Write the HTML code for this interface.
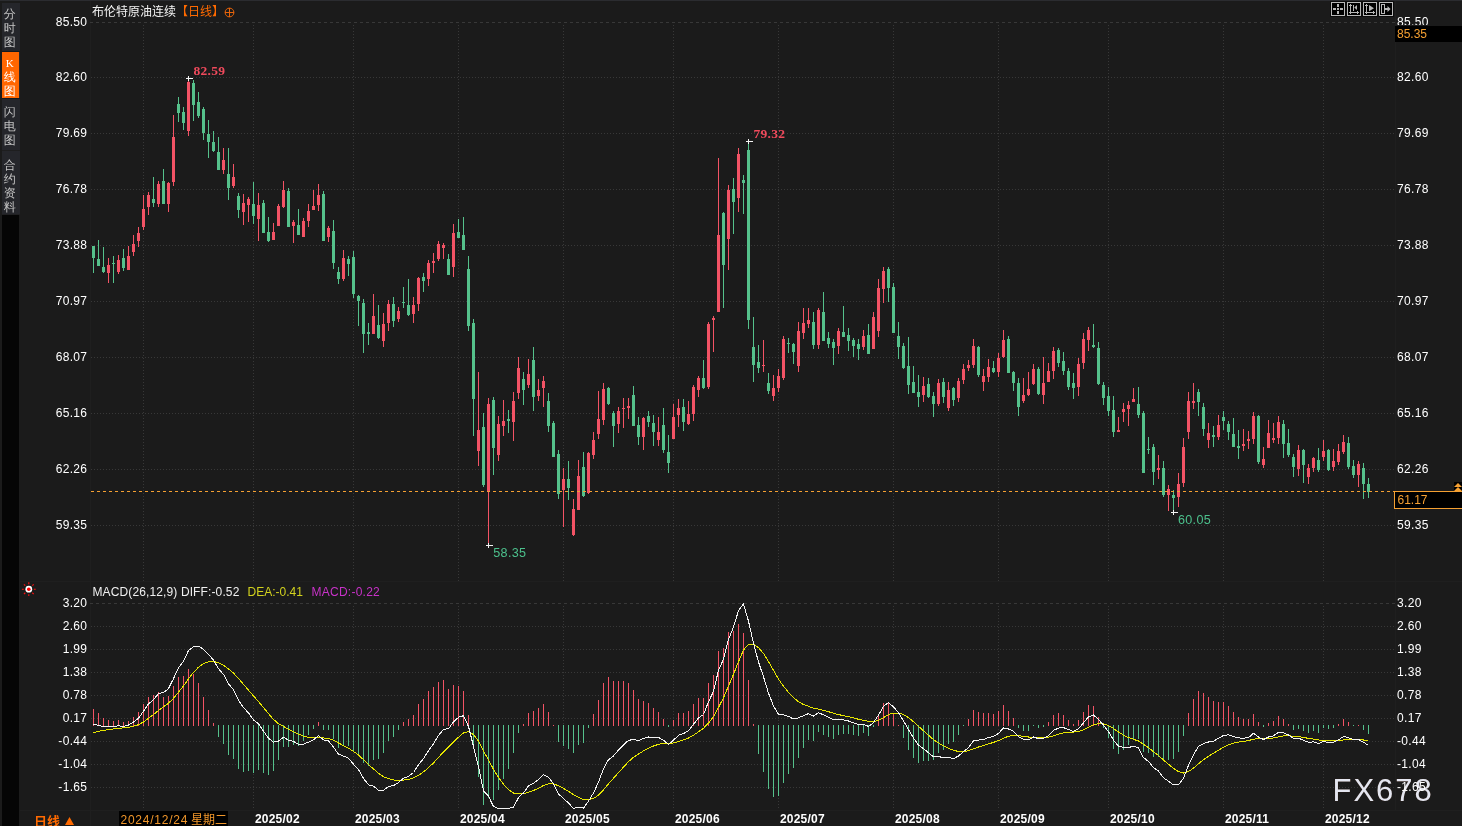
<!DOCTYPE html>
<html><head><meta charset="utf-8"><style>
html,body{margin:0;padding:0;background:#1b1b1b;}
body{width:1462px;height:826px;overflow:hidden;position:relative;}
svg{position:absolute;left:0;top:0;}
</style></head><body>
<svg width="1462" height="826" viewBox="0 0 1462 826">
<rect x="0" y="0" width="1462" height="826" fill="#1b1b1b"/>
<g shape-rendering="crispEdges">
<rect x="90" y="1" width="1" height="825" fill="#1f1f1f"/>
<rect x="1395" y="1" width="1" height="809" fill="#1f1f1f"/>
<rect x="20" y="581" width="1442" height="1" fill="#1f1f1f"/>
<rect x="20" y="810" width="1442" height="1" fill="#1f1f1f"/>
<line x1="90" y1="22.5" x2="1395" y2="22.5" stroke="#383838" stroke-dasharray="3,3"/>
<line x1="91" y1="77.5" x2="1395" y2="77.5" stroke="#383838" stroke-dasharray="1,2"/>
<line x1="91" y1="133.5" x2="1395" y2="133.5" stroke="#383838" stroke-dasharray="1,2"/>
<line x1="91" y1="189.5" x2="1395" y2="189.5" stroke="#383838" stroke-dasharray="1,2"/>
<line x1="91" y1="245.5" x2="1395" y2="245.5" stroke="#383838" stroke-dasharray="1,2"/>
<line x1="91" y1="301.5" x2="1395" y2="301.5" stroke="#383838" stroke-dasharray="1,2"/>
<line x1="91" y1="357.5" x2="1395" y2="357.5" stroke="#383838" stroke-dasharray="1,2"/>
<line x1="91" y1="413.5" x2="1395" y2="413.5" stroke="#383838" stroke-dasharray="1,2"/>
<line x1="91" y1="469.5" x2="1395" y2="469.5" stroke="#383838" stroke-dasharray="1,2"/>
<line x1="91" y1="525.5" x2="1395" y2="525.5" stroke="#383838" stroke-dasharray="1,2"/>
<line x1="90" y1="603.5" x2="1395" y2="603.5" stroke="#383838" stroke-dasharray="3,3"/>
<line x1="91" y1="626.5" x2="1395" y2="626.5" stroke="#383838" stroke-dasharray="1,2"/>
<line x1="91" y1="649.5" x2="1395" y2="649.5" stroke="#383838" stroke-dasharray="1,2"/>
<line x1="91" y1="672.5" x2="1395" y2="672.5" stroke="#383838" stroke-dasharray="1,2"/>
<line x1="91" y1="695.5" x2="1395" y2="695.5" stroke="#383838" stroke-dasharray="1,2"/>
<line x1="91" y1="718.5" x2="1395" y2="718.5" stroke="#383838" stroke-dasharray="1,2"/>
<line x1="91" y1="741.5" x2="1395" y2="741.5" stroke="#383838" stroke-dasharray="1,2"/>
<line x1="91" y1="764.5" x2="1395" y2="764.5" stroke="#383838" stroke-dasharray="1,2"/>
<line x1="91" y1="787.5" x2="1395" y2="787.5" stroke="#383838" stroke-dasharray="1,2"/>
<line x1="143.5" y1="25" x2="143.5" y2="581" stroke="#383838" stroke-dasharray="1,2"/>
<line x1="143.5" y1="606" x2="143.5" y2="809" stroke="#383838" stroke-dasharray="1,2"/>
<line x1="253.5" y1="25" x2="253.5" y2="581" stroke="#383838" stroke-dasharray="1,2"/>
<line x1="253.5" y1="606" x2="253.5" y2="809" stroke="#383838" stroke-dasharray="1,2"/>
<line x1="353.5" y1="25" x2="353.5" y2="581" stroke="#383838" stroke-dasharray="1,2"/>
<line x1="353.5" y1="606" x2="353.5" y2="809" stroke="#383838" stroke-dasharray="1,2"/>
<line x1="458.5" y1="25" x2="458.5" y2="581" stroke="#383838" stroke-dasharray="1,2"/>
<line x1="458.5" y1="606" x2="458.5" y2="809" stroke="#383838" stroke-dasharray="1,2"/>
<line x1="563.5" y1="25" x2="563.5" y2="581" stroke="#383838" stroke-dasharray="1,2"/>
<line x1="563.5" y1="606" x2="563.5" y2="809" stroke="#383838" stroke-dasharray="1,2"/>
<line x1="673.5" y1="25" x2="673.5" y2="581" stroke="#383838" stroke-dasharray="1,2"/>
<line x1="673.5" y1="606" x2="673.5" y2="809" stroke="#383838" stroke-dasharray="1,2"/>
<line x1="778.5" y1="25" x2="778.5" y2="581" stroke="#383838" stroke-dasharray="1,2"/>
<line x1="778.5" y1="606" x2="778.5" y2="809" stroke="#383838" stroke-dasharray="1,2"/>
<line x1="893.5" y1="25" x2="893.5" y2="581" stroke="#383838" stroke-dasharray="1,2"/>
<line x1="893.5" y1="606" x2="893.5" y2="809" stroke="#383838" stroke-dasharray="1,2"/>
<line x1="998.5" y1="25" x2="998.5" y2="581" stroke="#383838" stroke-dasharray="1,2"/>
<line x1="998.5" y1="606" x2="998.5" y2="809" stroke="#383838" stroke-dasharray="1,2"/>
<line x1="1108.5" y1="25" x2="1108.5" y2="581" stroke="#383838" stroke-dasharray="1,2"/>
<line x1="1108.5" y1="606" x2="1108.5" y2="809" stroke="#383838" stroke-dasharray="1,2"/>
<line x1="1223.5" y1="25" x2="1223.5" y2="581" stroke="#383838" stroke-dasharray="1,2"/>
<line x1="1223.5" y1="606" x2="1223.5" y2="809" stroke="#383838" stroke-dasharray="1,2"/>
<line x1="1323.5" y1="25" x2="1323.5" y2="581" stroke="#383838" stroke-dasharray="1,2"/>
<line x1="1323.5" y1="606" x2="1323.5" y2="809" stroke="#383838" stroke-dasharray="1,2"/>
</g>
<g shape-rendering="crispEdges"><rect x="93" y="246" width="1" height="27" fill="#55c18b"/><rect x="92" y="246" width="3" height="12" fill="#55c18b"/><rect x="98" y="240" width="1" height="26" fill="#55c18b"/><rect x="97" y="259" width="3" height="7" fill="#55c18b"/><rect x="103" y="247" width="1" height="26" fill="#55c18b"/><rect x="102" y="267" width="3" height="5" fill="#55c18b"/><rect x="108" y="258" width="1" height="25" fill="#f35365"/><rect x="107" y="265" width="3" height="8" fill="#f35365"/><rect x="113" y="256" width="1" height="27" fill="#55c18b"/><rect x="112" y="263" width="3" height="1" fill="#55c18b"/><rect x="118" y="255" width="1" height="19" fill="#f35365"/><rect x="117" y="260" width="3" height="12" fill="#f35365"/><rect x="123" y="249" width="1" height="22" fill="#55c18b"/><rect x="122" y="258" width="3" height="10" fill="#55c18b"/><rect x="128" y="246" width="1" height="24" fill="#f35365"/><rect x="127" y="256" width="3" height="14" fill="#f35365"/><rect x="133" y="235" width="1" height="21" fill="#f35365"/><rect x="132" y="244" width="3" height="8" fill="#f35365"/><rect x="138" y="227" width="1" height="20" fill="#f35365"/><rect x="137" y="233" width="3" height="8" fill="#f35365"/><rect x="143" y="195" width="1" height="35" fill="#f35365"/><rect x="142" y="209" width="3" height="18" fill="#f35365"/><rect x="148" y="192" width="1" height="23" fill="#f35365"/><rect x="147" y="195" width="3" height="12" fill="#f35365"/><rect x="153" y="177" width="1" height="30" fill="#55c18b"/><rect x="152" y="199" width="3" height="4" fill="#55c18b"/><rect x="158" y="181" width="1" height="26" fill="#f35365"/><rect x="157" y="184" width="3" height="20" fill="#f35365"/><rect x="163" y="169" width="1" height="35" fill="#55c18b"/><rect x="162" y="181" width="3" height="23" fill="#55c18b"/><rect x="168" y="182" width="1" height="30" fill="#f35365"/><rect x="167" y="183" width="3" height="21" fill="#f35365"/><rect x="173" y="115" width="1" height="71" fill="#f35365"/><rect x="172" y="137" width="3" height="45" fill="#f35365"/><rect x="178" y="97" width="1" height="25" fill="#55c18b"/><rect x="177" y="104" width="3" height="9" fill="#55c18b"/><rect x="183" y="107" width="1" height="23" fill="#55c18b"/><rect x="182" y="112" width="3" height="11" fill="#55c18b"/><rect x="188" y="78" width="1" height="58" fill="#f35365"/><rect x="187" y="82" width="3" height="49" fill="#f35365"/><rect x="193" y="80" width="1" height="41" fill="#55c18b"/><rect x="192" y="83" width="3" height="22" fill="#55c18b"/><rect x="198" y="92" width="1" height="26" fill="#55c18b"/><rect x="197" y="102" width="3" height="14" fill="#55c18b"/><rect x="203" y="107" width="1" height="33" fill="#55c18b"/><rect x="202" y="109" width="3" height="24" fill="#55c18b"/><rect x="208" y="120" width="1" height="38" fill="#55c18b"/><rect x="207" y="134" width="3" height="8" fill="#55c18b"/><rect x="213" y="131" width="1" height="21" fill="#55c18b"/><rect x="212" y="142" width="3" height="9" fill="#55c18b"/><rect x="218" y="137" width="1" height="33" fill="#55c18b"/><rect x="217" y="152" width="3" height="18" fill="#55c18b"/><rect x="223" y="148" width="1" height="26" fill="#f35365"/><rect x="222" y="160" width="3" height="10" fill="#f35365"/><rect x="228" y="148" width="1" height="52" fill="#55c18b"/><rect x="227" y="174" width="3" height="14" fill="#55c18b"/><rect x="233" y="164" width="1" height="24" fill="#f35365"/><rect x="232" y="177" width="3" height="9" fill="#f35365"/><rect x="238" y="193" width="1" height="25" fill="#55c18b"/><rect x="237" y="196" width="3" height="14" fill="#55c18b"/><rect x="243" y="194" width="1" height="31" fill="#f35365"/><rect x="242" y="203" width="3" height="9" fill="#f35365"/><rect x="248" y="197" width="1" height="25" fill="#f35365"/><rect x="247" y="199" width="3" height="6" fill="#f35365"/><rect x="253" y="182" width="1" height="42" fill="#55c18b"/><rect x="252" y="204" width="3" height="12" fill="#55c18b"/><rect x="258" y="193" width="1" height="48" fill="#f35365"/><rect x="257" y="205" width="3" height="14" fill="#f35365"/><rect x="263" y="200" width="1" height="33" fill="#55c18b"/><rect x="262" y="203" width="3" height="30" fill="#55c18b"/><rect x="268" y="217" width="1" height="25" fill="#55c18b"/><rect x="267" y="232" width="3" height="9" fill="#55c18b"/><rect x="273" y="223" width="1" height="17" fill="#f35365"/><rect x="272" y="232" width="3" height="8" fill="#f35365"/><rect x="278" y="204" width="1" height="22" fill="#f35365"/><rect x="277" y="206" width="3" height="20" fill="#f35365"/><rect x="283" y="181" width="1" height="27" fill="#f35365"/><rect x="282" y="190" width="3" height="17" fill="#f35365"/><rect x="288" y="188" width="1" height="39" fill="#55c18b"/><rect x="287" y="191" width="3" height="36" fill="#55c18b"/><rect x="293" y="220" width="1" height="23" fill="#f35365"/><rect x="292" y="222" width="3" height="4" fill="#f35365"/><rect x="298" y="209" width="1" height="26" fill="#55c18b"/><rect x="297" y="225" width="3" height="10" fill="#55c18b"/><rect x="303" y="218" width="1" height="19" fill="#f35365"/><rect x="302" y="221" width="3" height="16" fill="#f35365"/><rect x="308" y="204" width="1" height="23" fill="#f35365"/><rect x="307" y="211" width="3" height="10" fill="#f35365"/><rect x="313" y="190" width="1" height="20" fill="#f35365"/><rect x="312" y="206" width="3" height="4" fill="#f35365"/><rect x="318" y="184" width="1" height="27" fill="#f35365"/><rect x="317" y="195" width="3" height="10" fill="#f35365"/><rect x="323" y="191" width="1" height="50" fill="#55c18b"/><rect x="322" y="194" width="3" height="47" fill="#55c18b"/><rect x="328" y="226" width="1" height="16" fill="#f35365"/><rect x="327" y="228" width="3" height="9" fill="#f35365"/><rect x="333" y="220" width="1" height="49" fill="#55c18b"/><rect x="332" y="231" width="3" height="32" fill="#55c18b"/><rect x="338" y="267" width="1" height="17" fill="#55c18b"/><rect x="337" y="272" width="3" height="7" fill="#55c18b"/><rect x="343" y="250" width="1" height="31" fill="#f35365"/><rect x="342" y="258" width="3" height="21" fill="#f35365"/><rect x="348" y="256" width="1" height="20" fill="#55c18b"/><rect x="347" y="259" width="3" height="5" fill="#55c18b"/><rect x="353" y="251" width="1" height="47" fill="#55c18b"/><rect x="352" y="257" width="3" height="37" fill="#55c18b"/><rect x="358" y="295" width="1" height="31" fill="#55c18b"/><rect x="357" y="296" width="3" height="5" fill="#55c18b"/><rect x="363" y="299" width="1" height="54" fill="#55c18b"/><rect x="362" y="303" width="3" height="31" fill="#55c18b"/><rect x="368" y="323" width="1" height="22" fill="#55c18b"/><rect x="367" y="332" width="3" height="2" fill="#55c18b"/><rect x="373" y="294" width="1" height="40" fill="#f35365"/><rect x="372" y="316" width="3" height="18" fill="#f35365"/><rect x="378" y="305" width="1" height="34" fill="#55c18b"/><rect x="377" y="325" width="3" height="13" fill="#55c18b"/><rect x="383" y="313" width="1" height="34" fill="#f35365"/><rect x="382" y="324" width="3" height="17" fill="#f35365"/><rect x="388" y="300" width="1" height="31" fill="#f35365"/><rect x="387" y="304" width="3" height="19" fill="#f35365"/><rect x="393" y="297" width="1" height="30" fill="#55c18b"/><rect x="392" y="304" width="3" height="17" fill="#55c18b"/><rect x="398" y="307" width="1" height="15" fill="#f35365"/><rect x="397" y="311" width="3" height="8" fill="#f35365"/><rect x="403" y="287" width="1" height="21" fill="#55c18b"/><rect x="402" y="302" width="3" height="1" fill="#55c18b"/><rect x="408" y="279" width="1" height="37" fill="#55c18b"/><rect x="407" y="305" width="3" height="10" fill="#55c18b"/><rect x="413" y="297" width="1" height="26" fill="#f35365"/><rect x="412" y="305" width="3" height="9" fill="#f35365"/><rect x="418" y="277" width="1" height="34" fill="#f35365"/><rect x="417" y="278" width="3" height="26" fill="#f35365"/><rect x="423" y="273" width="1" height="19" fill="#55c18b"/><rect x="422" y="277" width="3" height="4" fill="#55c18b"/><rect x="428" y="260" width="1" height="26" fill="#f35365"/><rect x="427" y="263" width="3" height="16" fill="#f35365"/><rect x="433" y="253" width="1" height="20" fill="#f35365"/><rect x="432" y="261" width="3" height="2" fill="#f35365"/><rect x="438" y="241" width="1" height="20" fill="#f35365"/><rect x="437" y="244" width="3" height="15" fill="#f35365"/><rect x="443" y="243" width="1" height="16" fill="#f35365"/><rect x="442" y="245" width="3" height="3" fill="#f35365"/><rect x="448" y="254" width="1" height="21" fill="#55c18b"/><rect x="447" y="259" width="3" height="16" fill="#55c18b"/><rect x="453" y="224" width="1" height="53" fill="#f35365"/><rect x="452" y="233" width="3" height="34" fill="#f35365"/><rect x="458" y="219" width="1" height="19" fill="#55c18b"/><rect x="457" y="232" width="3" height="6" fill="#55c18b"/><rect x="463" y="217" width="1" height="33" fill="#55c18b"/><rect x="462" y="235" width="3" height="15" fill="#55c18b"/><rect x="468" y="256" width="1" height="75" fill="#55c18b"/><rect x="467" y="269" width="3" height="57" fill="#55c18b"/><rect x="473" y="319" width="1" height="117" fill="#55c18b"/><rect x="472" y="323" width="3" height="76" fill="#55c18b"/><rect x="478" y="372" width="1" height="94" fill="#f35365"/><rect x="477" y="430" width="3" height="21" fill="#f35365"/><rect x="483" y="413" width="1" height="74" fill="#55c18b"/><rect x="482" y="427" width="3" height="58" fill="#55c18b"/><rect x="488" y="398" width="1" height="147" fill="#f35365"/><rect x="487" y="404" width="3" height="87" fill="#f35365"/><rect x="493" y="397" width="1" height="78" fill="#55c18b"/><rect x="492" y="400" width="3" height="48" fill="#55c18b"/><rect x="498" y="416" width="1" height="45" fill="#f35365"/><rect x="497" y="424" width="3" height="31" fill="#f35365"/><rect x="503" y="400" width="1" height="36" fill="#f35365"/><rect x="502" y="421" width="3" height="5" fill="#f35365"/><rect x="508" y="410" width="1" height="23" fill="#55c18b"/><rect x="507" y="419" width="3" height="2" fill="#55c18b"/><rect x="513" y="392" width="1" height="49" fill="#f35365"/><rect x="512" y="401" width="3" height="21" fill="#f35365"/><rect x="518" y="357" width="1" height="42" fill="#f35365"/><rect x="517" y="368" width="3" height="25" fill="#f35365"/><rect x="523" y="372" width="1" height="33" fill="#55c18b"/><rect x="522" y="379" width="3" height="11" fill="#55c18b"/><rect x="528" y="359" width="1" height="29" fill="#f35365"/><rect x="527" y="374" width="3" height="11" fill="#f35365"/><rect x="533" y="347" width="1" height="64" fill="#55c18b"/><rect x="532" y="360" width="3" height="37" fill="#55c18b"/><rect x="538" y="379" width="1" height="22" fill="#f35365"/><rect x="537" y="390" width="3" height="6" fill="#f35365"/><rect x="543" y="376" width="1" height="31" fill="#f35365"/><rect x="542" y="381" width="3" height="7" fill="#f35365"/><rect x="548" y="393" width="1" height="39" fill="#55c18b"/><rect x="547" y="401" width="3" height="25" fill="#55c18b"/><rect x="553" y="421" width="1" height="36" fill="#55c18b"/><rect x="552" y="423" width="3" height="34" fill="#55c18b"/><rect x="558" y="450" width="1" height="49" fill="#55c18b"/><rect x="557" y="454" width="3" height="40" fill="#55c18b"/><rect x="563" y="468" width="1" height="59" fill="#f35365"/><rect x="562" y="479" width="3" height="11" fill="#f35365"/><rect x="568" y="461" width="1" height="39" fill="#55c18b"/><rect x="567" y="479" width="3" height="9" fill="#55c18b"/><rect x="573" y="499" width="1" height="37" fill="#f35365"/><rect x="572" y="509" width="3" height="26" fill="#f35365"/><rect x="578" y="460" width="1" height="50" fill="#f35365"/><rect x="577" y="476" width="3" height="34" fill="#f35365"/><rect x="583" y="452" width="1" height="45" fill="#55c18b"/><rect x="582" y="467" width="3" height="29" fill="#55c18b"/><rect x="588" y="452" width="1" height="42" fill="#f35365"/><rect x="587" y="453" width="3" height="40" fill="#f35365"/><rect x="593" y="432" width="1" height="27" fill="#f35365"/><rect x="592" y="440" width="3" height="15" fill="#f35365"/><rect x="598" y="391" width="1" height="48" fill="#f35365"/><rect x="597" y="419" width="3" height="15" fill="#f35365"/><rect x="603" y="383" width="1" height="42" fill="#f35365"/><rect x="602" y="389" width="3" height="31" fill="#f35365"/><rect x="608" y="387" width="1" height="18" fill="#55c18b"/><rect x="607" y="388" width="3" height="16" fill="#55c18b"/><rect x="613" y="411" width="1" height="36" fill="#55c18b"/><rect x="612" y="413" width="3" height="13" fill="#55c18b"/><rect x="618" y="407" width="1" height="26" fill="#f35365"/><rect x="617" y="411" width="3" height="13" fill="#f35365"/><rect x="623" y="398" width="1" height="30" fill="#f35365"/><rect x="622" y="408" width="3" height="1" fill="#f35365"/><rect x="628" y="398" width="1" height="21" fill="#f35365"/><rect x="627" y="406" width="3" height="2" fill="#f35365"/><rect x="633" y="386" width="1" height="40" fill="#55c18b"/><rect x="632" y="395" width="3" height="31" fill="#55c18b"/><rect x="638" y="417" width="1" height="28" fill="#55c18b"/><rect x="637" y="425" width="3" height="12" fill="#55c18b"/><rect x="643" y="417" width="1" height="33" fill="#f35365"/><rect x="642" y="418" width="3" height="19" fill="#f35365"/><rect x="648" y="411" width="1" height="16" fill="#55c18b"/><rect x="647" y="416" width="3" height="6" fill="#55c18b"/><rect x="653" y="415" width="1" height="31" fill="#55c18b"/><rect x="652" y="423" width="3" height="9" fill="#55c18b"/><rect x="658" y="417" width="1" height="29" fill="#f35365"/><rect x="657" y="432" width="3" height="8" fill="#f35365"/><rect x="663" y="408" width="1" height="45" fill="#55c18b"/><rect x="662" y="425" width="3" height="25" fill="#55c18b"/><rect x="668" y="435" width="1" height="38" fill="#55c18b"/><rect x="667" y="452" width="3" height="11" fill="#55c18b"/><rect x="673" y="404" width="1" height="35" fill="#f35365"/><rect x="672" y="417" width="3" height="22" fill="#f35365"/><rect x="678" y="399" width="1" height="28" fill="#f35365"/><rect x="677" y="408" width="3" height="7" fill="#f35365"/><rect x="683" y="399" width="1" height="32" fill="#55c18b"/><rect x="682" y="407" width="3" height="15" fill="#55c18b"/><rect x="688" y="401" width="1" height="24" fill="#f35365"/><rect x="687" y="414" width="3" height="10" fill="#f35365"/><rect x="693" y="385" width="1" height="36" fill="#f35365"/><rect x="692" y="387" width="3" height="27" fill="#f35365"/><rect x="698" y="376" width="1" height="21" fill="#f35365"/><rect x="697" y="378" width="3" height="12" fill="#f35365"/><rect x="703" y="360" width="1" height="29" fill="#55c18b"/><rect x="702" y="378" width="3" height="10" fill="#55c18b"/><rect x="708" y="322" width="1" height="67" fill="#f35365"/><rect x="707" y="324" width="3" height="63" fill="#f35365"/><rect x="713" y="316" width="1" height="36" fill="#f35365"/><rect x="712" y="318" width="3" height="2" fill="#f35365"/><rect x="718" y="158" width="1" height="154" fill="#f35365"/><rect x="717" y="235" width="3" height="77" fill="#f35365"/><rect x="723" y="212" width="1" height="96" fill="#55c18b"/><rect x="722" y="213" width="3" height="52" fill="#55c18b"/><rect x="728" y="185" width="1" height="85" fill="#f35365"/><rect x="727" y="190" width="3" height="49" fill="#f35365"/><rect x="733" y="178" width="1" height="56" fill="#55c18b"/><rect x="732" y="189" width="3" height="13" fill="#55c18b"/><rect x="738" y="148" width="1" height="64" fill="#f35365"/><rect x="737" y="154" width="3" height="44" fill="#f35365"/><rect x="743" y="175" width="1" height="39" fill="#55c18b"/><rect x="742" y="180" width="3" height="3" fill="#55c18b"/><rect x="748" y="141" width="1" height="188" fill="#55c18b"/><rect x="747" y="150" width="3" height="170" fill="#55c18b"/><rect x="753" y="317" width="1" height="65" fill="#55c18b"/><rect x="752" y="347" width="3" height="18" fill="#55c18b"/><rect x="758" y="345" width="1" height="28" fill="#55c18b"/><rect x="757" y="362" width="3" height="6" fill="#55c18b"/><rect x="763" y="340" width="1" height="32" fill="#f35365"/><rect x="762" y="365" width="3" height="1" fill="#f35365"/><rect x="768" y="373" width="1" height="21" fill="#55c18b"/><rect x="767" y="383" width="3" height="8" fill="#55c18b"/><rect x="773" y="375" width="1" height="26" fill="#f35365"/><rect x="772" y="388" width="3" height="8" fill="#f35365"/><rect x="778" y="369" width="1" height="23" fill="#f35365"/><rect x="777" y="376" width="3" height="12" fill="#f35365"/><rect x="783" y="336" width="1" height="44" fill="#f35365"/><rect x="782" y="339" width="3" height="39" fill="#f35365"/><rect x="788" y="338" width="1" height="15" fill="#55c18b"/><rect x="787" y="343" width="3" height="1" fill="#55c18b"/><rect x="793" y="343" width="1" height="21" fill="#55c18b"/><rect x="792" y="344" width="3" height="8" fill="#55c18b"/><rect x="798" y="322" width="1" height="50" fill="#f35365"/><rect x="797" y="331" width="3" height="35" fill="#f35365"/><rect x="803" y="308" width="1" height="31" fill="#f35365"/><rect x="802" y="323" width="3" height="10" fill="#f35365"/><rect x="808" y="308" width="1" height="20" fill="#f35365"/><rect x="807" y="320" width="3" height="4" fill="#f35365"/><rect x="813" y="312" width="1" height="37" fill="#55c18b"/><rect x="812" y="322" width="3" height="23" fill="#55c18b"/><rect x="818" y="308" width="1" height="41" fill="#f35365"/><rect x="817" y="310" width="3" height="35" fill="#f35365"/><rect x="823" y="292" width="1" height="49" fill="#55c18b"/><rect x="822" y="312" width="3" height="29" fill="#55c18b"/><rect x="828" y="332" width="1" height="16" fill="#55c18b"/><rect x="827" y="338" width="3" height="6" fill="#55c18b"/><rect x="833" y="339" width="1" height="26" fill="#55c18b"/><rect x="832" y="342" width="3" height="6" fill="#55c18b"/><rect x="838" y="328" width="1" height="26" fill="#f35365"/><rect x="837" y="331" width="3" height="15" fill="#f35365"/><rect x="843" y="306" width="1" height="31" fill="#55c18b"/><rect x="842" y="332" width="3" height="5" fill="#55c18b"/><rect x="848" y="328" width="1" height="23" fill="#55c18b"/><rect x="847" y="335" width="3" height="6" fill="#55c18b"/><rect x="853" y="338" width="1" height="19" fill="#55c18b"/><rect x="852" y="340" width="3" height="6" fill="#55c18b"/><rect x="858" y="339" width="1" height="21" fill="#55c18b"/><rect x="857" y="344" width="3" height="5" fill="#55c18b"/><rect x="863" y="330" width="1" height="20" fill="#f35365"/><rect x="862" y="336" width="3" height="11" fill="#f35365"/><rect x="868" y="324" width="1" height="30" fill="#55c18b"/><rect x="867" y="335" width="3" height="19" fill="#55c18b"/><rect x="873" y="312" width="1" height="37" fill="#f35365"/><rect x="872" y="317" width="3" height="32" fill="#f35365"/><rect x="878" y="279" width="1" height="58" fill="#f35365"/><rect x="877" y="288" width="3" height="43" fill="#f35365"/><rect x="883" y="267" width="1" height="36" fill="#f35365"/><rect x="882" y="271" width="3" height="18" fill="#f35365"/><rect x="888" y="267" width="1" height="35" fill="#55c18b"/><rect x="887" y="269" width="3" height="19" fill="#55c18b"/><rect x="893" y="283" width="1" height="50" fill="#55c18b"/><rect x="892" y="287" width="3" height="46" fill="#55c18b"/><rect x="898" y="322" width="1" height="37" fill="#55c18b"/><rect x="897" y="336" width="3" height="11" fill="#55c18b"/><rect x="903" y="343" width="1" height="26" fill="#55c18b"/><rect x="902" y="346" width="3" height="22" fill="#55c18b"/><rect x="908" y="337" width="1" height="57" fill="#55c18b"/><rect x="907" y="366" width="3" height="19" fill="#55c18b"/><rect x="913" y="366" width="1" height="27" fill="#55c18b"/><rect x="912" y="382" width="3" height="11" fill="#55c18b"/><rect x="918" y="375" width="1" height="32" fill="#55c18b"/><rect x="917" y="392" width="3" height="5" fill="#55c18b"/><rect x="923" y="377" width="1" height="25" fill="#f35365"/><rect x="922" y="386" width="3" height="9" fill="#f35365"/><rect x="928" y="378" width="1" height="20" fill="#55c18b"/><rect x="927" y="384" width="3" height="13" fill="#55c18b"/><rect x="933" y="392" width="1" height="25" fill="#55c18b"/><rect x="932" y="396" width="3" height="8" fill="#55c18b"/><rect x="938" y="379" width="1" height="27" fill="#f35365"/><rect x="937" y="383" width="3" height="21" fill="#f35365"/><rect x="943" y="378" width="1" height="25" fill="#55c18b"/><rect x="942" y="382" width="3" height="15" fill="#55c18b"/><rect x="948" y="382" width="1" height="29" fill="#f35365"/><rect x="947" y="390" width="3" height="18" fill="#f35365"/><rect x="953" y="387" width="1" height="19" fill="#55c18b"/><rect x="952" y="388" width="3" height="12" fill="#55c18b"/><rect x="958" y="378" width="1" height="24" fill="#f35365"/><rect x="957" y="381" width="3" height="17" fill="#f35365"/><rect x="963" y="364" width="1" height="20" fill="#f35365"/><rect x="962" y="369" width="3" height="11" fill="#f35365"/><rect x="968" y="360" width="1" height="11" fill="#f35365"/><rect x="967" y="365" width="3" height="3" fill="#f35365"/><rect x="973" y="339" width="1" height="29" fill="#f35365"/><rect x="972" y="346" width="3" height="19" fill="#f35365"/><rect x="978" y="346" width="1" height="31" fill="#55c18b"/><rect x="977" y="347" width="3" height="28" fill="#55c18b"/><rect x="983" y="369" width="1" height="22" fill="#f35365"/><rect x="982" y="376" width="3" height="6" fill="#f35365"/><rect x="988" y="359" width="1" height="23" fill="#f35365"/><rect x="987" y="367" width="3" height="10" fill="#f35365"/><rect x="993" y="361" width="1" height="12" fill="#55c18b"/><rect x="992" y="368" width="3" height="4" fill="#55c18b"/><rect x="998" y="353" width="1" height="24" fill="#f35365"/><rect x="997" y="358" width="3" height="14" fill="#f35365"/><rect x="1003" y="330" width="1" height="28" fill="#f35365"/><rect x="1002" y="340" width="3" height="17" fill="#f35365"/><rect x="1008" y="336" width="1" height="37" fill="#55c18b"/><rect x="1007" y="339" width="3" height="34" fill="#55c18b"/><rect x="1013" y="371" width="1" height="20" fill="#55c18b"/><rect x="1012" y="372" width="3" height="11" fill="#55c18b"/><rect x="1018" y="378" width="1" height="38" fill="#55c18b"/><rect x="1017" y="383" width="3" height="24" fill="#55c18b"/><rect x="1023" y="378" width="1" height="25" fill="#f35365"/><rect x="1022" y="395" width="3" height="6" fill="#f35365"/><rect x="1028" y="372" width="1" height="24" fill="#f35365"/><rect x="1027" y="389" width="3" height="6" fill="#f35365"/><rect x="1033" y="364" width="1" height="21" fill="#f35365"/><rect x="1032" y="369" width="3" height="15" fill="#f35365"/><rect x="1038" y="367" width="1" height="28" fill="#55c18b"/><rect x="1037" y="369" width="3" height="25" fill="#55c18b"/><rect x="1043" y="357" width="1" height="47" fill="#f35365"/><rect x="1042" y="383" width="3" height="12" fill="#f35365"/><rect x="1048" y="363" width="1" height="19" fill="#f35365"/><rect x="1047" y="371" width="3" height="11" fill="#f35365"/><rect x="1053" y="347" width="1" height="32" fill="#f35365"/><rect x="1052" y="351" width="3" height="20" fill="#f35365"/><rect x="1058" y="348" width="1" height="19" fill="#55c18b"/><rect x="1057" y="350" width="3" height="13" fill="#55c18b"/><rect x="1063" y="352" width="1" height="23" fill="#55c18b"/><rect x="1062" y="361" width="3" height="10" fill="#55c18b"/><rect x="1068" y="368" width="1" height="22" fill="#55c18b"/><rect x="1067" y="371" width="3" height="16" fill="#55c18b"/><rect x="1073" y="373" width="1" height="26" fill="#55c18b"/><rect x="1072" y="383" width="3" height="5" fill="#55c18b"/><rect x="1078" y="358" width="1" height="38" fill="#f35365"/><rect x="1077" y="364" width="3" height="23" fill="#f35365"/><rect x="1083" y="333" width="1" height="36" fill="#f35365"/><rect x="1082" y="339" width="3" height="24" fill="#f35365"/><rect x="1088" y="327" width="1" height="24" fill="#f35365"/><rect x="1087" y="330" width="3" height="10" fill="#f35365"/><rect x="1093" y="324" width="1" height="24" fill="#55c18b"/><rect x="1092" y="345" width="3" height="2" fill="#55c18b"/><rect x="1098" y="342" width="1" height="43" fill="#55c18b"/><rect x="1097" y="348" width="3" height="36" fill="#55c18b"/><rect x="1103" y="382" width="1" height="23" fill="#55c18b"/><rect x="1102" y="385" width="3" height="13" fill="#55c18b"/><rect x="1108" y="387" width="1" height="29" fill="#55c18b"/><rect x="1107" y="396" width="3" height="15" fill="#55c18b"/><rect x="1113" y="396" width="1" height="41" fill="#55c18b"/><rect x="1112" y="410" width="3" height="22" fill="#55c18b"/><rect x="1118" y="417" width="1" height="15" fill="#f35365"/><rect x="1117" y="430" width="3" height="2" fill="#f35365"/><rect x="1123" y="403" width="1" height="19" fill="#f35365"/><rect x="1122" y="409" width="3" height="3" fill="#f35365"/><rect x="1128" y="401" width="1" height="25" fill="#f35365"/><rect x="1127" y="405" width="3" height="4" fill="#f35365"/><rect x="1133" y="388" width="1" height="14" fill="#f35365"/><rect x="1132" y="399" width="3" height="3" fill="#f35365"/><rect x="1138" y="387" width="1" height="31" fill="#55c18b"/><rect x="1137" y="404" width="3" height="11" fill="#55c18b"/><rect x="1143" y="411" width="1" height="62" fill="#55c18b"/><rect x="1142" y="413" width="3" height="60" fill="#55c18b"/><rect x="1148" y="437" width="1" height="17" fill="#55c18b"/><rect x="1147" y="449" width="3" height="1" fill="#55c18b"/><rect x="1153" y="444" width="1" height="41" fill="#55c18b"/><rect x="1152" y="447" width="3" height="25" fill="#55c18b"/><rect x="1158" y="455" width="1" height="24" fill="#f35365"/><rect x="1157" y="468" width="3" height="2" fill="#f35365"/><rect x="1163" y="461" width="1" height="36" fill="#55c18b"/><rect x="1162" y="468" width="3" height="27" fill="#55c18b"/><rect x="1168" y="485" width="1" height="26" fill="#f35365"/><rect x="1167" y="489" width="3" height="6" fill="#f35365"/><rect x="1173" y="490" width="1" height="22" fill="#55c18b"/><rect x="1172" y="495" width="3" height="3" fill="#55c18b"/><rect x="1178" y="473" width="1" height="34" fill="#f35365"/><rect x="1177" y="484" width="3" height="13" fill="#f35365"/><rect x="1183" y="438" width="1" height="49" fill="#f35365"/><rect x="1182" y="447" width="3" height="36" fill="#f35365"/><rect x="1188" y="392" width="1" height="47" fill="#f35365"/><rect x="1187" y="401" width="3" height="31" fill="#f35365"/><rect x="1193" y="383" width="1" height="26" fill="#f35365"/><rect x="1192" y="401" width="3" height="2" fill="#f35365"/><rect x="1198" y="389" width="1" height="27" fill="#55c18b"/><rect x="1197" y="392" width="3" height="10" fill="#55c18b"/><rect x="1203" y="403" width="1" height="33" fill="#55c18b"/><rect x="1202" y="407" width="3" height="22" fill="#55c18b"/><rect x="1208" y="423" width="1" height="25" fill="#f35365"/><rect x="1207" y="433" width="3" height="7" fill="#f35365"/><rect x="1213" y="426" width="1" height="21" fill="#55c18b"/><rect x="1212" y="435" width="3" height="2" fill="#55c18b"/><rect x="1218" y="415" width="1" height="25" fill="#f35365"/><rect x="1217" y="425" width="3" height="12" fill="#f35365"/><rect x="1223" y="411" width="1" height="19" fill="#55c18b"/><rect x="1222" y="417" width="3" height="4" fill="#55c18b"/><rect x="1228" y="421" width="1" height="19" fill="#55c18b"/><rect x="1227" y="424" width="3" height="8" fill="#55c18b"/><rect x="1233" y="418" width="1" height="29" fill="#55c18b"/><rect x="1232" y="434" width="3" height="13" fill="#55c18b"/><rect x="1238" y="430" width="1" height="29" fill="#55c18b"/><rect x="1237" y="446" width="3" height="2" fill="#55c18b"/><rect x="1243" y="429" width="1" height="22" fill="#f35365"/><rect x="1242" y="444" width="3" height="2" fill="#f35365"/><rect x="1248" y="431" width="1" height="18" fill="#f35365"/><rect x="1247" y="439" width="3" height="2" fill="#f35365"/><rect x="1253" y="412" width="1" height="32" fill="#f35365"/><rect x="1252" y="416" width="3" height="23" fill="#f35365"/><rect x="1258" y="415" width="1" height="49" fill="#55c18b"/><rect x="1257" y="416" width="3" height="46" fill="#55c18b"/><rect x="1263" y="447" width="1" height="21" fill="#f35365"/><rect x="1262" y="459" width="3" height="6" fill="#f35365"/><rect x="1268" y="420" width="1" height="28" fill="#f35365"/><rect x="1267" y="433" width="3" height="15" fill="#f35365"/><rect x="1273" y="423" width="1" height="20" fill="#f35365"/><rect x="1272" y="438" width="3" height="2" fill="#f35365"/><rect x="1278" y="416" width="1" height="28" fill="#f35365"/><rect x="1277" y="422" width="3" height="16" fill="#f35365"/><rect x="1283" y="420" width="1" height="38" fill="#55c18b"/><rect x="1282" y="424" width="3" height="20" fill="#55c18b"/><rect x="1288" y="429" width="1" height="28" fill="#55c18b"/><rect x="1287" y="443" width="3" height="12" fill="#55c18b"/><rect x="1293" y="454" width="1" height="23" fill="#55c18b"/><rect x="1292" y="457" width="3" height="10" fill="#55c18b"/><rect x="1298" y="445" width="1" height="31" fill="#f35365"/><rect x="1297" y="450" width="3" height="19" fill="#f35365"/><rect x="1303" y="449" width="1" height="34" fill="#55c18b"/><rect x="1302" y="450" width="3" height="15" fill="#55c18b"/><rect x="1308" y="464" width="1" height="20" fill="#f35365"/><rect x="1307" y="468" width="3" height="9" fill="#f35365"/><rect x="1313" y="457" width="1" height="15" fill="#f35365"/><rect x="1312" y="458" width="3" height="10" fill="#f35365"/><rect x="1318" y="448" width="1" height="24" fill="#55c18b"/><rect x="1317" y="460" width="3" height="10" fill="#55c18b"/><rect x="1323" y="440" width="1" height="21" fill="#f35365"/><rect x="1322" y="451" width="3" height="6" fill="#f35365"/><rect x="1328" y="449" width="1" height="22" fill="#55c18b"/><rect x="1327" y="450" width="3" height="20" fill="#55c18b"/><rect x="1333" y="449" width="1" height="22" fill="#f35365"/><rect x="1332" y="461" width="3" height="6" fill="#f35365"/><rect x="1338" y="444" width="1" height="21" fill="#f35365"/><rect x="1337" y="451" width="3" height="11" fill="#f35365"/><rect x="1343" y="435" width="1" height="19" fill="#f35365"/><rect x="1342" y="442" width="3" height="10" fill="#f35365"/><rect x="1348" y="437" width="1" height="32" fill="#55c18b"/><rect x="1347" y="443" width="3" height="24" fill="#55c18b"/><rect x="1353" y="460" width="1" height="18" fill="#55c18b"/><rect x="1352" y="466" width="3" height="9" fill="#55c18b"/><rect x="1358" y="461" width="1" height="26" fill="#f35365"/><rect x="1357" y="464" width="3" height="11" fill="#f35365"/><rect x="1363" y="463" width="1" height="36" fill="#55c18b"/><rect x="1362" y="468" width="3" height="16" fill="#55c18b"/><rect x="1368" y="478" width="1" height="20" fill="#55c18b"/><rect x="1367" y="484" width="3" height="8" fill="#55c18b"/></g>
<line x1="91" y1="491.5" x2="1394" y2="491.5" stroke="#f5a032" stroke-dasharray="3,3" shape-rendering="crispEdges"/>
<g shape-rendering="crispEdges" fill="#f4f4f4"><rect x="186" y="78" width="7" height="1"/><rect x="188" y="76" width="1" height="5"/></g>
<g shape-rendering="crispEdges" fill="#f4f4f4"><rect x="746" y="141" width="7" height="1"/><rect x="748" y="139" width="1" height="5"/></g>
<g shape-rendering="crispEdges" fill="#f4f4f4"><rect x="486" y="545" width="7" height="1"/><rect x="488" y="543" width="1" height="5"/></g>
<g shape-rendering="crispEdges" fill="#f4f4f4"><rect x="1171" y="512" width="7" height="1"/><rect x="1173" y="510" width="1" height="5"/></g>
<g shape-rendering="crispEdges"><rect x="93" y="709" width="1" height="17" fill="#f35365"/><rect x="98" y="713" width="1" height="13" fill="#f35365"/><rect x="103" y="718" width="1" height="8" fill="#f35365"/><rect x="108" y="720" width="1" height="6" fill="#f35365"/><rect x="113" y="721" width="1" height="5" fill="#f35365"/><rect x="118" y="720" width="1" height="6" fill="#f35365"/><rect x="123" y="722" width="1" height="4" fill="#f35365"/><rect x="128" y="721" width="1" height="5" fill="#f35365"/><rect x="133" y="717" width="1" height="9" fill="#f35365"/><rect x="138" y="712" width="1" height="14" fill="#f35365"/><rect x="143" y="704" width="1" height="22" fill="#f35365"/><rect x="148" y="697" width="1" height="29" fill="#f35365"/><rect x="153" y="695" width="1" height="31" fill="#f35365"/><rect x="158" y="692" width="1" height="34" fill="#f35365"/><rect x="163" y="697" width="1" height="29" fill="#f35365"/><rect x="168" y="696" width="1" height="30" fill="#f35365"/><rect x="173" y="686" width="1" height="40" fill="#f35365"/><rect x="178" y="677" width="1" height="49" fill="#f35365"/><rect x="183" y="676" width="1" height="50" fill="#f35365"/><rect x="188" y="669" width="1" height="57" fill="#f35365"/><rect x="193" y="674" width="1" height="52" fill="#f35365"/><rect x="198" y="683" width="1" height="43" fill="#f35365"/><rect x="203" y="697" width="1" height="29" fill="#f35365"/><rect x="208" y="710" width="1" height="16" fill="#f35365"/><rect x="213" y="723" width="1" height="3" fill="#f35365"/><rect x="218" y="725" width="1" height="12" fill="#55c18b"/><rect x="223" y="725" width="1" height="19" fill="#55c18b"/><rect x="228" y="725" width="1" height="30" fill="#55c18b"/><rect x="233" y="725" width="1" height="34" fill="#55c18b"/><rect x="238" y="725" width="1" height="44" fill="#55c18b"/><rect x="243" y="725" width="1" height="47" fill="#55c18b"/><rect x="248" y="725" width="1" height="46" fill="#55c18b"/><rect x="253" y="725" width="1" height="48" fill="#55c18b"/><rect x="258" y="725" width="1" height="45" fill="#55c18b"/><rect x="263" y="725" width="1" height="48" fill="#55c18b"/><rect x="268" y="725" width="1" height="50" fill="#55c18b"/><rect x="273" y="725" width="1" height="46" fill="#55c18b"/><rect x="278" y="725" width="1" height="35" fill="#55c18b"/><rect x="283" y="725" width="1" height="22" fill="#55c18b"/><rect x="288" y="725" width="1" height="22" fill="#55c18b"/><rect x="293" y="725" width="1" height="20" fill="#55c18b"/><rect x="298" y="725" width="1" height="21" fill="#55c18b"/><rect x="303" y="725" width="1" height="16" fill="#55c18b"/><rect x="308" y="725" width="1" height="10" fill="#55c18b"/><rect x="313" y="725" width="1" height="4" fill="#55c18b"/><rect x="318" y="722" width="1" height="4" fill="#f35365"/><rect x="323" y="725" width="1" height="5" fill="#55c18b"/><rect x="328" y="725" width="1" height="5" fill="#55c18b"/><rect x="333" y="725" width="1" height="14" fill="#55c18b"/><rect x="338" y="725" width="1" height="23" fill="#55c18b"/><rect x="343" y="725" width="1" height="21" fill="#55c18b"/><rect x="348" y="725" width="1" height="21" fill="#55c18b"/><rect x="353" y="725" width="1" height="26" fill="#55c18b"/><rect x="358" y="725" width="1" height="30" fill="#55c18b"/><rect x="363" y="725" width="1" height="38" fill="#55c18b"/><rect x="368" y="725" width="1" height="41" fill="#55c18b"/><rect x="373" y="725" width="1" height="35" fill="#55c18b"/><rect x="378" y="725" width="1" height="34" fill="#55c18b"/><rect x="383" y="725" width="1" height="28" fill="#55c18b"/><rect x="388" y="725" width="1" height="16" fill="#55c18b"/><rect x="393" y="725" width="1" height="12" fill="#55c18b"/><rect x="398" y="725" width="1" height="5" fill="#55c18b"/><rect x="403" y="722" width="1" height="4" fill="#f35365"/><rect x="408" y="719" width="1" height="7" fill="#f35365"/><rect x="413" y="715" width="1" height="11" fill="#f35365"/><rect x="418" y="704" width="1" height="22" fill="#f35365"/><rect x="423" y="699" width="1" height="27" fill="#f35365"/><rect x="428" y="691" width="1" height="35" fill="#f35365"/><rect x="433" y="687" width="1" height="39" fill="#f35365"/><rect x="438" y="682" width="1" height="44" fill="#f35365"/><rect x="443" y="680" width="1" height="46" fill="#f35365"/><rect x="448" y="689" width="1" height="37" fill="#f35365"/><rect x="453" y="685" width="1" height="41" fill="#f35365"/><rect x="458" y="686" width="1" height="40" fill="#f35365"/><rect x="463" y="691" width="1" height="35" fill="#f35365"/><rect x="468" y="715" width="1" height="11" fill="#f35365"/><rect x="473" y="725" width="1" height="24" fill="#55c18b"/><rect x="478" y="725" width="1" height="52" fill="#55c18b"/><rect x="483" y="725" width="1" height="80" fill="#55c18b"/><rect x="488" y="725" width="1" height="73" fill="#55c18b"/><rect x="493" y="725" width="1" height="75" fill="#55c18b"/><rect x="498" y="725" width="1" height="65" fill="#55c18b"/><rect x="503" y="725" width="1" height="54" fill="#55c18b"/><rect x="508" y="725" width="1" height="44" fill="#55c18b"/><rect x="513" y="725" width="1" height="28" fill="#55c18b"/><rect x="518" y="725" width="1" height="8" fill="#55c18b"/><rect x="523" y="724" width="1" height="2" fill="#f35365"/><rect x="528" y="713" width="1" height="13" fill="#f35365"/><rect x="533" y="711" width="1" height="15" fill="#f35365"/><rect x="538" y="708" width="1" height="18" fill="#f35365"/><rect x="543" y="704" width="1" height="22" fill="#f35365"/><rect x="548" y="712" width="1" height="14" fill="#f35365"/><rect x="553" y="725" width="1" height="1" fill="#f35365"/><rect x="558" y="725" width="1" height="17" fill="#55c18b"/><rect x="563" y="725" width="1" height="21" fill="#55c18b"/><rect x="568" y="725" width="1" height="24" fill="#55c18b"/><rect x="573" y="725" width="1" height="28" fill="#55c18b"/><rect x="578" y="725" width="1" height="20" fill="#55c18b"/><rect x="583" y="725" width="1" height="18" fill="#55c18b"/><rect x="588" y="725" width="1" height="3" fill="#55c18b"/><rect x="593" y="714" width="1" height="12" fill="#f35365"/><rect x="598" y="700" width="1" height="26" fill="#f35365"/><rect x="603" y="683" width="1" height="43" fill="#f35365"/><rect x="608" y="677" width="1" height="49" fill="#f35365"/><rect x="613" y="681" width="1" height="45" fill="#f35365"/><rect x="618" y="681" width="1" height="45" fill="#f35365"/><rect x="623" y="681" width="1" height="45" fill="#f35365"/><rect x="628" y="683" width="1" height="43" fill="#f35365"/><rect x="633" y="690" width="1" height="36" fill="#f35365"/><rect x="638" y="699" width="1" height="27" fill="#f35365"/><rect x="643" y="701" width="1" height="25" fill="#f35365"/><rect x="648" y="703" width="1" height="23" fill="#f35365"/><rect x="653" y="708" width="1" height="18" fill="#f35365"/><rect x="658" y="712" width="1" height="14" fill="#f35365"/><rect x="663" y="719" width="1" height="7" fill="#f35365"/><rect x="668" y="725" width="1" height="2" fill="#55c18b"/><rect x="673" y="720" width="1" height="6" fill="#f35365"/><rect x="678" y="713" width="1" height="13" fill="#f35365"/><rect x="683" y="713" width="1" height="13" fill="#f35365"/><rect x="688" y="711" width="1" height="15" fill="#f35365"/><rect x="693" y="704" width="1" height="22" fill="#f35365"/><rect x="698" y="698" width="1" height="28" fill="#f35365"/><rect x="703" y="698" width="1" height="28" fill="#f35365"/><rect x="708" y="683" width="1" height="43" fill="#f35365"/><rect x="713" y="675" width="1" height="51" fill="#f35365"/><rect x="718" y="651" width="1" height="75" fill="#f35365"/><rect x="723" y="648" width="1" height="78" fill="#f35365"/><rect x="728" y="632" width="1" height="94" fill="#f35365"/><rect x="733" y="631" width="1" height="95" fill="#f35365"/><rect x="738" y="624" width="1" height="102" fill="#f35365"/><rect x="743" y="633" width="1" height="93" fill="#f35365"/><rect x="748" y="680" width="1" height="46" fill="#f35365"/><rect x="753" y="724" width="1" height="2" fill="#f35365"/><rect x="758" y="725" width="1" height="29" fill="#55c18b"/><rect x="763" y="725" width="1" height="47" fill="#55c18b"/><rect x="768" y="725" width="1" height="64" fill="#55c18b"/><rect x="773" y="725" width="1" height="72" fill="#55c18b"/><rect x="778" y="725" width="1" height="71" fill="#55c18b"/><rect x="783" y="725" width="1" height="58" fill="#55c18b"/><rect x="788" y="725" width="1" height="49" fill="#55c18b"/><rect x="793" y="725" width="1" height="43" fill="#55c18b"/><rect x="798" y="725" width="1" height="33" fill="#55c18b"/><rect x="803" y="725" width="1" height="23" fill="#55c18b"/><rect x="808" y="725" width="1" height="15" fill="#55c18b"/><rect x="813" y="725" width="1" height="16" fill="#55c18b"/><rect x="818" y="725" width="1" height="7" fill="#55c18b"/><rect x="823" y="725" width="1" height="10" fill="#55c18b"/><rect x="828" y="725" width="1" height="12" fill="#55c18b"/><rect x="833" y="725" width="1" height="14" fill="#55c18b"/><rect x="838" y="725" width="1" height="10" fill="#55c18b"/><rect x="843" y="725" width="1" height="9" fill="#55c18b"/><rect x="848" y="725" width="1" height="9" fill="#55c18b"/><rect x="853" y="725" width="1" height="10" fill="#55c18b"/><rect x="858" y="725" width="1" height="11" fill="#55c18b"/><rect x="863" y="725" width="1" height="8" fill="#55c18b"/><rect x="868" y="725" width="1" height="11" fill="#55c18b"/><rect x="873" y="725" width="1" height="2" fill="#55c18b"/><rect x="878" y="715" width="1" height="11" fill="#f35365"/><rect x="883" y="703" width="1" height="23" fill="#f35365"/><rect x="888" y="702" width="1" height="24" fill="#f35365"/><rect x="893" y="713" width="1" height="13" fill="#f35365"/><rect x="898" y="725" width="1" height="1" fill="#f35365"/><rect x="903" y="725" width="1" height="13" fill="#55c18b"/><rect x="908" y="725" width="1" height="25" fill="#55c18b"/><rect x="913" y="725" width="1" height="33" fill="#55c18b"/><rect x="918" y="725" width="1" height="38" fill="#55c18b"/><rect x="923" y="725" width="1" height="36" fill="#55c18b"/><rect x="928" y="725" width="1" height="36" fill="#55c18b"/><rect x="933" y="725" width="1" height="35" fill="#55c18b"/><rect x="938" y="725" width="1" height="28" fill="#55c18b"/><rect x="943" y="725" width="1" height="25" fill="#55c18b"/><rect x="948" y="725" width="1" height="19" fill="#55c18b"/><rect x="953" y="725" width="1" height="17" fill="#55c18b"/><rect x="958" y="725" width="1" height="10" fill="#55c18b"/><rect x="963" y="725" width="1" height="1" fill="#55c18b"/><rect x="968" y="719" width="1" height="7" fill="#f35365"/><rect x="973" y="710" width="1" height="16" fill="#f35365"/><rect x="978" y="712" width="1" height="14" fill="#f35365"/><rect x="983" y="713" width="1" height="13" fill="#f35365"/><rect x="988" y="713" width="1" height="13" fill="#f35365"/><rect x="993" y="714" width="1" height="12" fill="#f35365"/><rect x="998" y="711" width="1" height="15" fill="#f35365"/><rect x="1003" y="705" width="1" height="21" fill="#f35365"/><rect x="1008" y="711" width="1" height="15" fill="#f35365"/><rect x="1013" y="718" width="1" height="8" fill="#f35365"/><rect x="1018" y="725" width="1" height="3" fill="#55c18b"/><rect x="1023" y="725" width="1" height="6" fill="#55c18b"/><rect x="1028" y="725" width="1" height="6" fill="#55c18b"/><rect x="1033" y="725" width="1" height="1" fill="#55c18b"/><rect x="1038" y="725" width="1" height="3" fill="#55c18b"/><rect x="1043" y="725" width="1" height="2" fill="#55c18b"/><rect x="1048" y="722" width="1" height="4" fill="#f35365"/><rect x="1053" y="715" width="1" height="11" fill="#f35365"/><rect x="1058" y="713" width="1" height="13" fill="#f35365"/><rect x="1063" y="715" width="1" height="11" fill="#f35365"/><rect x="1068" y="720" width="1" height="6" fill="#f35365"/><rect x="1073" y="724" width="1" height="2" fill="#f35365"/><rect x="1078" y="720" width="1" height="6" fill="#f35365"/><rect x="1083" y="712" width="1" height="14" fill="#f35365"/><rect x="1088" y="705" width="1" height="21" fill="#f35365"/><rect x="1093" y="706" width="1" height="20" fill="#f35365"/><rect x="1098" y="717" width="1" height="9" fill="#f35365"/><rect x="1103" y="725" width="1" height="3" fill="#55c18b"/><rect x="1108" y="725" width="1" height="13" fill="#55c18b"/><rect x="1113" y="725" width="1" height="24" fill="#55c18b"/><rect x="1118" y="725" width="1" height="29" fill="#55c18b"/><rect x="1123" y="725" width="1" height="25" fill="#55c18b"/><rect x="1128" y="725" width="1" height="20" fill="#55c18b"/><rect x="1133" y="725" width="1" height="15" fill="#55c18b"/><rect x="1138" y="725" width="1" height="14" fill="#55c18b"/><rect x="1143" y="725" width="1" height="27" fill="#55c18b"/><rect x="1148" y="725" width="1" height="28" fill="#55c18b"/><rect x="1153" y="725" width="1" height="32" fill="#55c18b"/><rect x="1158" y="725" width="1" height="32" fill="#55c18b"/><rect x="1163" y="725" width="1" height="36" fill="#55c18b"/><rect x="1168" y="725" width="1" height="35" fill="#55c18b"/><rect x="1173" y="725" width="1" height="34" fill="#55c18b"/><rect x="1178" y="725" width="1" height="27" fill="#55c18b"/><rect x="1183" y="725" width="1" height="11" fill="#55c18b"/><rect x="1188" y="713" width="1" height="13" fill="#f35365"/><rect x="1193" y="699" width="1" height="27" fill="#f35365"/><rect x="1198" y="691" width="1" height="35" fill="#f35365"/><rect x="1203" y="693" width="1" height="33" fill="#f35365"/><rect x="1208" y="697" width="1" height="29" fill="#f35365"/><rect x="1213" y="701" width="1" height="25" fill="#f35365"/><rect x="1218" y="702" width="1" height="24" fill="#f35365"/><rect x="1223" y="702" width="1" height="24" fill="#f35365"/><rect x="1228" y="706" width="1" height="20" fill="#f35365"/><rect x="1233" y="712" width="1" height="14" fill="#f35365"/><rect x="1238" y="717" width="1" height="9" fill="#f35365"/><rect x="1243" y="719" width="1" height="7" fill="#f35365"/><rect x="1248" y="719" width="1" height="7" fill="#f35365"/><rect x="1253" y="714" width="1" height="12" fill="#f35365"/><rect x="1258" y="722" width="1" height="4" fill="#f35365"/><rect x="1263" y="725" width="1" height="2" fill="#55c18b"/><rect x="1268" y="723" width="1" height="3" fill="#f35365"/><rect x="1273" y="721" width="1" height="5" fill="#f35365"/><rect x="1278" y="716" width="1" height="10" fill="#f35365"/><rect x="1283" y="719" width="1" height="7" fill="#f35365"/><rect x="1288" y="724" width="1" height="2" fill="#f35365"/><rect x="1293" y="725" width="1" height="5" fill="#55c18b"/><rect x="1298" y="725" width="1" height="4" fill="#55c18b"/><rect x="1303" y="725" width="1" height="6" fill="#55c18b"/><rect x="1308" y="725" width="1" height="8" fill="#55c18b"/><rect x="1313" y="725" width="1" height="6" fill="#55c18b"/><rect x="1318" y="725" width="1" height="8" fill="#55c18b"/><rect x="1323" y="725" width="1" height="3" fill="#55c18b"/><rect x="1328" y="725" width="1" height="4" fill="#55c18b"/><rect x="1333" y="725" width="1" height="3" fill="#55c18b"/><rect x="1338" y="724" width="1" height="2" fill="#f35365"/><rect x="1343" y="719" width="1" height="7" fill="#f35365"/><rect x="1348" y="722" width="1" height="4" fill="#f35365"/><rect x="1353" y="725" width="1" height="1" fill="#55c18b"/><rect x="1358" y="725" width="1" height="1" fill="#f35365"/><rect x="1363" y="725" width="1" height="5" fill="#55c18b"/><rect x="1368" y="725" width="1" height="9" fill="#55c18b"/></g>
<polyline points="93.5,732.7 98.5,731.2 103.5,730.3 108.5,729.6 113.5,728.9 118.5,728.3 123.5,727.9 128.5,727.4 133.5,726.3 138.5,724.7 143.5,722.0 148.5,718.4 153.5,714.6 158.5,710.4 163.5,706.8 168.5,703.2 173.5,698.3 178.5,692.2 183.5,686.0 188.5,678.9 193.5,672.4 198.5,667.2 203.5,663.6 208.5,661.7 213.5,661.4 218.5,662.9 223.5,665.2 228.5,668.9 233.5,673.1 238.5,678.5 243.5,684.4 248.5,690.1 253.5,696.0 258.5,701.6 263.5,707.5 268.5,713.7 273.5,719.4 278.5,723.7 283.5,726.4 288.5,729.2 293.5,731.6 298.5,734.2 303.5,736.1 308.5,737.3 313.5,737.8 318.5,737.4 323.5,737.9 328.5,738.5 333.5,740.2 338.5,743.0 343.5,745.6 348.5,748.2 353.5,751.4 358.5,755.0 363.5,759.7 368.5,764.7 373.5,769.0 378.5,773.2 383.5,776.7 388.5,778.6 393.5,780.0 398.5,780.5 403.5,780.1 408.5,779.3 413.5,778.0 418.5,775.3 423.5,771.9 428.5,767.7 433.5,762.9 438.5,757.4 443.5,751.8 448.5,747.2 453.5,742.1 458.5,737.2 463.5,732.9 468.5,731.6 473.5,734.6 478.5,741.0 483.5,751.0 488.5,760.0 493.5,769.3 498.5,777.4 503.5,784.2 508.5,789.6 513.5,793.1 518.5,794.0 523.5,793.8 528.5,792.2 533.5,790.4 538.5,788.3 543.5,785.5 548.5,783.9 553.5,783.8 558.5,785.8 563.5,788.4 568.5,791.3 573.5,794.8 578.5,797.3 583.5,799.5 588.5,799.8 593.5,798.4 598.5,795.2 603.5,789.9 608.5,783.8 613.5,778.2 618.5,772.6 623.5,767.1 628.5,761.7 633.5,757.3 638.5,754.0 643.5,750.9 648.5,748.1 653.5,746.0 658.5,744.3 663.5,743.5 668.5,743.7 673.5,743.0 678.5,741.4 683.5,739.8 688.5,738.0 693.5,735.3 698.5,731.8 703.5,728.3 708.5,723.0 713.5,716.7 718.5,707.4 723.5,697.8 728.5,686.1 733.5,674.3 738.5,661.6 743.5,650.0 748.5,644.3 753.5,644.1 758.5,647.7 763.5,653.5 768.5,661.5 773.5,670.3 778.5,679.1 783.5,686.3 788.5,692.3 793.5,697.6 798.5,701.7 803.5,704.5 808.5,706.3 813.5,708.3 818.5,709.1 823.5,710.3 828.5,711.7 833.5,713.3 838.5,714.6 843.5,715.6 848.5,716.7 853.5,717.9 858.5,719.3 863.5,720.2 868.5,721.5 873.5,721.7 878.5,720.4 883.5,717.6 888.5,714.6 893.5,713.0 898.5,713.0 903.5,714.5 908.5,717.6 913.5,721.7 918.5,726.4 923.5,730.8 928.5,735.2 933.5,739.6 938.5,742.9 943.5,745.9 948.5,748.3 953.5,750.3 958.5,751.5 963.5,751.5 968.5,750.7 973.5,748.8 978.5,747.0 983.5,745.5 988.5,743.9 993.5,742.4 998.5,740.6 1003.5,738.1 1008.5,736.3 1013.5,735.3 1018.5,735.6 1023.5,736.3 1028.5,737.0 1033.5,737.0 1038.5,737.3 1043.5,737.5 1048.5,737.1 1053.5,735.8 1058.5,734.2 1063.5,732.9 1068.5,732.2 1073.5,732.1 1078.5,731.4 1083.5,729.7 1088.5,727.2 1093.5,724.7 1098.5,723.7 1103.5,724.0 1108.5,725.5 1113.5,728.5 1118.5,732.0 1123.5,735.1 1128.5,737.6 1133.5,739.3 1138.5,741.0 1143.5,744.3 1148.5,747.7 1153.5,751.7 1158.5,755.6 1163.5,760.0 1168.5,764.3 1173.5,768.4 1178.5,771.7 1183.5,773.0 1188.5,771.5 1193.5,768.1 1198.5,763.8 1203.5,759.7 1208.5,756.2 1213.5,753.2 1218.5,750.2 1223.5,747.3 1228.5,744.8 1233.5,743.1 1238.5,742.1 1243.5,741.3 1248.5,740.6 1253.5,739.1 1258.5,738.7 1263.5,738.8 1268.5,738.5 1273.5,738.0 1278.5,736.8 1283.5,736.0 1288.5,735.8 1293.5,736.3 1298.5,736.7 1303.5,737.4 1308.5,738.4 1313.5,739.1 1318.5,740.0 1323.5,740.3 1328.5,740.7 1333.5,741.0 1338.5,740.8 1343.5,739.9 1348.5,739.5 1353.5,739.5 1358.5,739.5 1363.5,740.0 1368.5,741.1" fill="none" stroke="#e6e600" stroke-width="1" shape-rendering="crispEdges"/>
<polyline points="93.5,724.4 98.5,725.2 103.5,726.6 108.5,726.7 113.5,726.5 118.5,725.8 123.5,726.4 128.5,725.1 133.5,722.1 138.5,718.1 143.5,711.3 148.5,703.9 153.5,699.6 158.5,693.6 163.5,692.5 168.5,688.6 173.5,678.7 178.5,667.7 183.5,661.3 188.5,650.5 193.5,646.6 198.5,646.1 203.5,649.4 208.5,654.2 213.5,660.2 218.5,668.7 223.5,674.4 228.5,683.8 233.5,689.9 238.5,700.3 243.5,707.6 248.5,712.9 253.5,720.0 258.5,723.8 263.5,731.2 268.5,738.3 273.5,742.2 278.5,741.0 283.5,737.3 288.5,740.2 293.5,741.4 298.5,744.3 303.5,744.1 308.5,742.2 313.5,739.7 318.5,735.8 323.5,739.9 328.5,741.0 333.5,747.1 338.5,754.2 343.5,756.1 348.5,758.2 353.5,764.2 358.5,769.5 363.5,778.4 368.5,784.8 373.5,786.2 378.5,790.2 383.5,790.3 388.5,786.6 393.5,785.6 398.5,782.5 403.5,778.3 408.5,776.3 413.5,772.5 418.5,764.7 423.5,758.6 428.5,750.7 433.5,743.8 438.5,735.5 443.5,729.2 448.5,728.8 453.5,721.9 458.5,717.3 463.5,715.7 468.5,726.5 473.5,746.5 478.5,766.7 483.5,790.8 488.5,796.2 493.5,806.5 498.5,808.5 503.5,808.5 508.5,808.5 513.5,807.0 518.5,797.6 523.5,792.9 528.5,785.9 533.5,783.4 538.5,779.6 543.5,774.6 548.5,777.3 553.5,783.7 558.5,793.9 563.5,798.6 568.5,803.0 573.5,808.5 578.5,807.2 583.5,808.1 588.5,801.2 593.5,792.9 598.5,782.2 603.5,768.6 608.5,759.7 613.5,755.9 618.5,750.1 623.5,744.9 628.5,740.3 633.5,739.6 638.5,740.6 643.5,738.4 648.5,737.0 653.5,737.4 658.5,737.5 663.5,740.3 668.5,744.4 673.5,740.2 678.5,735.3 683.5,733.5 688.5,730.8 693.5,724.3 698.5,717.8 703.5,714.5 708.5,701.8 713.5,691.3 718.5,670.3 723.5,659.3 728.5,639.5 733.5,626.9 738.5,610.7 743.5,603.8 748.5,621.3 753.5,643.3 758.5,662.0 763.5,676.8 768.5,693.2 773.5,705.9 778.5,714.2 783.5,714.9 788.5,716.4 793.5,719.0 798.5,717.8 803.5,715.7 808.5,713.6 813.5,716.1 818.5,712.6 823.5,714.9 828.5,717.3 833.5,719.9 838.5,719.4 843.5,719.9 848.5,721.0 853.5,722.8 858.5,724.6 863.5,724.1 868.5,726.5 873.5,722.6 878.5,715.0 883.5,706.4 888.5,702.6 893.5,706.9 898.5,712.7 903.5,720.8 908.5,729.8 913.5,738.1 918.5,745.1 923.5,748.6 928.5,752.8 933.5,756.9 938.5,756.4 943.5,757.9 948.5,757.6 953.5,758.6 958.5,756.0 963.5,751.7 968.5,747.5 973.5,740.9 978.5,740.1 983.5,739.5 988.5,737.4 993.5,736.5 998.5,733.4 1003.5,728.0 1008.5,729.0 1013.5,731.3 1018.5,736.8 1023.5,739.1 1028.5,739.8 1033.5,737.0 1038.5,738.7 1043.5,738.1 1048.5,735.6 1053.5,730.4 1058.5,728.1 1063.5,727.6 1068.5,729.6 1073.5,731.4 1078.5,728.9 1083.5,722.9 1088.5,716.9 1093.5,715.0 1098.5,719.5 1103.5,725.2 1108.5,731.8 1113.5,740.1 1118.5,746.2 1123.5,747.4 1128.5,747.5 1133.5,746.3 1138.5,747.7 1143.5,757.6 1148.5,761.4 1153.5,767.5 1158.5,771.1 1163.5,777.7 1168.5,781.3 1173.5,784.9 1178.5,784.9 1183.5,778.3 1188.5,765.3 1193.5,754.8 1198.5,746.3 1203.5,743.6 1208.5,742.0 1213.5,741.1 1218.5,738.4 1223.5,735.5 1228.5,734.8 1233.5,736.5 1238.5,737.9 1243.5,738.2 1248.5,737.6 1253.5,733.3 1258.5,737.1 1263.5,739.5 1268.5,737.0 1273.5,735.8 1278.5,732.2 1283.5,732.8 1288.5,734.9 1293.5,738.4 1298.5,738.2 1303.5,740.3 1308.5,742.2 1313.5,741.9 1318.5,743.5 1323.5,741.5 1328.5,742.7 1333.5,742.1 1338.5,739.8 1343.5,736.5 1348.5,737.7 1353.5,739.7 1358.5,739.4 1363.5,742.2 1368.5,745.4" fill="none" stroke="#f4f4f4" stroke-width="1" shape-rendering="crispEdges"/>
<text x="87.33" y="26" fill="#ffffff" font-size="12" text-anchor="end" font-weight="normal" font-family='"Liberation Sans", Arial, sans-serif' letter-spacing="0.33">85.50</text>
<text x="87.33" y="81" fill="#ffffff" font-size="12" text-anchor="end" font-weight="normal" font-family='"Liberation Sans", Arial, sans-serif' letter-spacing="0.33">82.60</text>
<text x="87.33" y="137" fill="#ffffff" font-size="12" text-anchor="end" font-weight="normal" font-family='"Liberation Sans", Arial, sans-serif' letter-spacing="0.33">79.69</text>
<text x="87.33" y="193" fill="#ffffff" font-size="12" text-anchor="end" font-weight="normal" font-family='"Liberation Sans", Arial, sans-serif' letter-spacing="0.33">76.78</text>
<text x="87.33" y="249" fill="#ffffff" font-size="12" text-anchor="end" font-weight="normal" font-family='"Liberation Sans", Arial, sans-serif' letter-spacing="0.33">73.88</text>
<text x="87.33" y="305" fill="#ffffff" font-size="12" text-anchor="end" font-weight="normal" font-family='"Liberation Sans", Arial, sans-serif' letter-spacing="0.33">70.97</text>
<text x="87.33" y="361" fill="#ffffff" font-size="12" text-anchor="end" font-weight="normal" font-family='"Liberation Sans", Arial, sans-serif' letter-spacing="0.33">68.07</text>
<text x="87.33" y="417" fill="#ffffff" font-size="12" text-anchor="end" font-weight="normal" font-family='"Liberation Sans", Arial, sans-serif' letter-spacing="0.33">65.16</text>
<text x="87.33" y="473" fill="#ffffff" font-size="12" text-anchor="end" font-weight="normal" font-family='"Liberation Sans", Arial, sans-serif' letter-spacing="0.33">62.26</text>
<text x="87.33" y="529" fill="#ffffff" font-size="12" text-anchor="end" font-weight="normal" font-family='"Liberation Sans", Arial, sans-serif' letter-spacing="0.33">59.35</text>
<text x="1397" y="26" fill="#ffffff" font-size="12" text-anchor="start" font-weight="normal" font-family='"Liberation Sans", Arial, sans-serif' letter-spacing="0.33">85.50</text>
<text x="1397" y="81" fill="#ffffff" font-size="12" text-anchor="start" font-weight="normal" font-family='"Liberation Sans", Arial, sans-serif' letter-spacing="0.33">82.60</text>
<text x="1397" y="137" fill="#ffffff" font-size="12" text-anchor="start" font-weight="normal" font-family='"Liberation Sans", Arial, sans-serif' letter-spacing="0.33">79.69</text>
<text x="1397" y="193" fill="#ffffff" font-size="12" text-anchor="start" font-weight="normal" font-family='"Liberation Sans", Arial, sans-serif' letter-spacing="0.33">76.78</text>
<text x="1397" y="249" fill="#ffffff" font-size="12" text-anchor="start" font-weight="normal" font-family='"Liberation Sans", Arial, sans-serif' letter-spacing="0.33">73.88</text>
<text x="1397" y="305" fill="#ffffff" font-size="12" text-anchor="start" font-weight="normal" font-family='"Liberation Sans", Arial, sans-serif' letter-spacing="0.33">70.97</text>
<text x="1397" y="361" fill="#ffffff" font-size="12" text-anchor="start" font-weight="normal" font-family='"Liberation Sans", Arial, sans-serif' letter-spacing="0.33">68.07</text>
<text x="1397" y="417" fill="#ffffff" font-size="12" text-anchor="start" font-weight="normal" font-family='"Liberation Sans", Arial, sans-serif' letter-spacing="0.33">65.16</text>
<text x="1397" y="473" fill="#ffffff" font-size="12" text-anchor="start" font-weight="normal" font-family='"Liberation Sans", Arial, sans-serif' letter-spacing="0.33">62.26</text>
<text x="1397" y="529" fill="#ffffff" font-size="12" text-anchor="start" font-weight="normal" font-family='"Liberation Sans", Arial, sans-serif' letter-spacing="0.33">59.35</text>
<text x="87.33" y="607" fill="#ffffff" font-size="12" text-anchor="end" font-weight="normal" font-family='"Liberation Sans", Arial, sans-serif' letter-spacing="0.33">3.20</text>
<text x="87.33" y="630" fill="#ffffff" font-size="12" text-anchor="end" font-weight="normal" font-family='"Liberation Sans", Arial, sans-serif' letter-spacing="0.33">2.60</text>
<text x="87.33" y="653" fill="#ffffff" font-size="12" text-anchor="end" font-weight="normal" font-family='"Liberation Sans", Arial, sans-serif' letter-spacing="0.33">1.99</text>
<text x="87.33" y="676" fill="#ffffff" font-size="12" text-anchor="end" font-weight="normal" font-family='"Liberation Sans", Arial, sans-serif' letter-spacing="0.33">1.38</text>
<text x="87.33" y="699" fill="#ffffff" font-size="12" text-anchor="end" font-weight="normal" font-family='"Liberation Sans", Arial, sans-serif' letter-spacing="0.33">0.78</text>
<text x="87.33" y="722" fill="#ffffff" font-size="12" text-anchor="end" font-weight="normal" font-family='"Liberation Sans", Arial, sans-serif' letter-spacing="0.33">0.17</text>
<text x="87.33" y="745" fill="#ffffff" font-size="12" text-anchor="end" font-weight="normal" font-family='"Liberation Sans", Arial, sans-serif' letter-spacing="0.33">-0.44</text>
<text x="87.33" y="768" fill="#ffffff" font-size="12" text-anchor="end" font-weight="normal" font-family='"Liberation Sans", Arial, sans-serif' letter-spacing="0.33">-1.04</text>
<text x="87.33" y="791" fill="#ffffff" font-size="12" text-anchor="end" font-weight="normal" font-family='"Liberation Sans", Arial, sans-serif' letter-spacing="0.33">-1.65</text>
<text x="1332.5" y="801" fill="#e4e6f0" font-size="31" text-anchor="start" font-weight="normal" font-family='"Liberation Sans", Arial, sans-serif' letter-spacing="1.95" stroke="#2a1a10" stroke-width="0.6" paint-order="stroke">FX678</text>
<text x="1397" y="607" fill="#ffffff" font-size="12" text-anchor="start" font-weight="normal" font-family='"Liberation Sans", Arial, sans-serif' letter-spacing="0.33">3.20</text>
<text x="1397" y="630" fill="#ffffff" font-size="12" text-anchor="start" font-weight="normal" font-family='"Liberation Sans", Arial, sans-serif' letter-spacing="0.33">2.60</text>
<text x="1397" y="653" fill="#ffffff" font-size="12" text-anchor="start" font-weight="normal" font-family='"Liberation Sans", Arial, sans-serif' letter-spacing="0.33">1.99</text>
<text x="1397" y="676" fill="#ffffff" font-size="12" text-anchor="start" font-weight="normal" font-family='"Liberation Sans", Arial, sans-serif' letter-spacing="0.33">1.38</text>
<text x="1397" y="699" fill="#ffffff" font-size="12" text-anchor="start" font-weight="normal" font-family='"Liberation Sans", Arial, sans-serif' letter-spacing="0.33">0.78</text>
<text x="1397" y="722" fill="#ffffff" font-size="12" text-anchor="start" font-weight="normal" font-family='"Liberation Sans", Arial, sans-serif' letter-spacing="0.33">0.17</text>
<text x="1397" y="745" fill="#ffffff" font-size="12" text-anchor="start" font-weight="normal" font-family='"Liberation Sans", Arial, sans-serif' letter-spacing="0.33">-0.44</text>
<text x="1397" y="768" fill="#ffffff" font-size="12" text-anchor="start" font-weight="normal" font-family='"Liberation Sans", Arial, sans-serif' letter-spacing="0.33">-1.04</text>
<text x="1397" y="791" fill="#ffffff" font-size="12" text-anchor="start" font-weight="normal" font-family='"Liberation Sans", Arial, sans-serif' letter-spacing="0.33">-1.65</text>
<text x="255" y="823" fill="#ffffff" font-size="12" text-anchor="start" font-weight="bold" font-family='"Liberation Sans", Arial, sans-serif' letter-spacing="0.2">2025/02</text>
<text x="355" y="823" fill="#ffffff" font-size="12" text-anchor="start" font-weight="bold" font-family='"Liberation Sans", Arial, sans-serif' letter-spacing="0.2">2025/03</text>
<text x="460" y="823" fill="#ffffff" font-size="12" text-anchor="start" font-weight="bold" font-family='"Liberation Sans", Arial, sans-serif' letter-spacing="0.2">2025/04</text>
<text x="565" y="823" fill="#ffffff" font-size="12" text-anchor="start" font-weight="bold" font-family='"Liberation Sans", Arial, sans-serif' letter-spacing="0.2">2025/05</text>
<text x="675" y="823" fill="#ffffff" font-size="12" text-anchor="start" font-weight="bold" font-family='"Liberation Sans", Arial, sans-serif' letter-spacing="0.2">2025/06</text>
<text x="780" y="823" fill="#ffffff" font-size="12" text-anchor="start" font-weight="bold" font-family='"Liberation Sans", Arial, sans-serif' letter-spacing="0.2">2025/07</text>
<text x="895" y="823" fill="#ffffff" font-size="12" text-anchor="start" font-weight="bold" font-family='"Liberation Sans", Arial, sans-serif' letter-spacing="0.2">2025/08</text>
<text x="1000" y="823" fill="#ffffff" font-size="12" text-anchor="start" font-weight="bold" font-family='"Liberation Sans", Arial, sans-serif' letter-spacing="0.2">2025/09</text>
<text x="1110" y="823" fill="#ffffff" font-size="12" text-anchor="start" font-weight="bold" font-family='"Liberation Sans", Arial, sans-serif' letter-spacing="0.2">2025/10</text>
<text x="1225" y="823" fill="#ffffff" font-size="12" text-anchor="start" font-weight="bold" font-family='"Liberation Sans", Arial, sans-serif' letter-spacing="0.2">2025/11</text>
<text x="1325" y="823" fill="#ffffff" font-size="12" text-anchor="start" font-weight="bold" font-family='"Liberation Sans", Arial, sans-serif' letter-spacing="0.2">2025/12</text>
<text x="193.5" y="75" fill="#f04a5c" font-size="13.5" text-anchor="start" font-weight="bold" font-family='"Liberation Serif", "Times New Roman", serif' letter-spacing="0.25">82.59</text>
<text x="753.5" y="138" fill="#f04a5c" font-size="13.5" text-anchor="start" font-weight="bold" font-family='"Liberation Serif", "Times New Roman", serif' letter-spacing="0.25">79.32</text>
<text x="493.3" y="557.2" fill="#4cc08c" font-size="12.6" text-anchor="start" font-weight="normal" font-family='"Liberation Sans", Arial, sans-serif' letter-spacing="0.3">58.35</text>
<text x="1178" y="524" fill="#4cc08c" font-size="12.6" text-anchor="start" font-weight="normal" font-family='"Liberation Sans", Arial, sans-serif' letter-spacing="0.3">60.05</text>
<text x="92" y="15.5" font-size="12" font-family='"Liberation Sans", "Noto Sans CJK SC", sans-serif' fill="#f4f4f4">布伦特原油连续<tspan fill="#ff6a00">【日线】</tspan></text>
<g stroke="#e8640a" fill="none" stroke-width="1"><circle cx="229.5" cy="12.5" r="4.4"/><line x1="225" y1="12.5" x2="234" y2="12.5"/><line x1="229.5" y1="8" x2="229.5" y2="17"/></g>
<text x="92.5" y="596" font-size="12" font-family='"Liberation Sans", Arial, sans-serif' fill="#f0f0f0" letter-spacing="0.12">MACD(26,12,9) DIFF:-0.52</text>
<text x="247.5" y="596" font-size="12" font-family='"Liberation Sans", Arial, sans-serif' fill="#d2d21e">DEA:-0.41</text>
<text x="311.5" y="596" font-size="12" font-family='"Liberation Sans", Arial, sans-serif' fill="#c832c8" letter-spacing="0.25">MACD:-0.22</text>
<rect x="1396" y="25" width="66" height="1" fill="#1b1b1b"/><rect x="1395" y="26" width="67" height="16" fill="#000"/><text x="1397" y="37.5" font-size="12" font-family='"Liberation Sans", Arial, sans-serif' fill="#f5a032">85.35</text><rect x="1394.5" y="491.5" width="70" height="17" fill="#000" stroke="#f5a032" stroke-width="1"/><text x="1397.5" y="504" font-size="12" font-family='"Liberation Sans", Arial, sans-serif' fill="#f5a032">61.17</text><rect x="1454" y="482" width="8" height="9" fill="#000"/><path d="M1458 483 L1462 487 L1454 487 Z M1458 487 L1462 491 L1454 491 Z" fill="#f5a032"/><rect x="1330" y="1" width="16" height="16" fill="#0c0c0c"/><rect x="1331" y="2" width="14" height="14" fill="#000"/><rect x="1331.5" y="2.5" width="13" height="13" fill="none" stroke="#b8b8b8" stroke-width="1" shape-rendering="crispEdges"/><rect x="1346" y="1" width="16" height="16" fill="#0c0c0c"/><rect x="1347" y="2" width="14" height="14" fill="#000"/><rect x="1347.5" y="2.5" width="13" height="13" fill="none" stroke="#b8b8b8" stroke-width="1" shape-rendering="crispEdges"/><rect x="1362" y="1" width="16" height="16" fill="#0c0c0c"/><rect x="1363" y="2" width="14" height="14" fill="#000"/><rect x="1363.5" y="2.5" width="13" height="13" fill="none" stroke="#b8b8b8" stroke-width="1" shape-rendering="crispEdges"/><rect x="1378" y="1" width="16" height="16" fill="#0c0c0c"/><rect x="1379" y="2" width="14" height="14" fill="#000"/><rect x="1379.5" y="2.5" width="13" height="13" fill="none" stroke="#b8b8b8" stroke-width="1" shape-rendering="crispEdges"/><g fill="#b8b8b8" shape-rendering="crispEdges"><rect x="1337" y="4" width="2" height="3"/><rect x="1337" y="11" width="2" height="3"/><rect x="1333" y="8" width="3" height="2"/><rect x="1340" y="8" width="3" height="2"/><rect x="1337" y="8" width="2" height="2"/></g><g fill="#b8b8b8" shape-rendering="crispEdges"><rect x="1350" y="4" width="1" height="10"/><rect x="1349" y="5" width="3" height="1"/><rect x="1349" y="12" width="10" height="1"/><rect x="1357" y="11" width="1" height="3"/></g><g fill="#b8b8b8" shape-rendering="crispEdges"><rect x="1353" y="5" width="1" height="6"/></g><path d="M1357 5 V10 L1354.3 7.5 Z" fill="#b8b8b8"/><g fill="#b8b8b8" shape-rendering="crispEdges"><rect x="1366" y="4" width="1" height="10"/><rect x="1365" y="5" width="3" height="1"/><rect x="1365" y="12" width="10" height="1"/><rect x="1373" y="11" width="1" height="3"/></g><path d="M1369 5 V11.3 L1374 8.2 Z" fill="#b8b8b8"/><rect x="1381.5" y="4.5" width="3" height="9" fill="none" stroke="#b8b8b8" stroke-width="1" shape-rendering="crispEdges"/><g fill="#b8b8b8" shape-rendering="crispEdges"><rect x="1385" y="8" width="4" height="2"/></g><path d="M1387.5 6 L1390.6 9 L1387.5 12 Z" fill="#b8b8b8"/><path d="M33.80 589.20 L35.70 589.20 M32.34 592.74 L33.68 594.08 M28.80 594.20 L28.80 596.10 M25.26 592.74 L23.92 594.08 M23.80 589.20 L21.90 589.20 M25.26 585.66 L23.92 584.32 M28.80 584.20 L28.80 582.30 M32.34 585.66 L33.68 584.32" stroke="#ff1010" stroke-width="1.1" fill="none"/><circle cx="28.8" cy="589.2" r="3.4" fill="#ffffff"/><circle cx="28.8" cy="589.2" r="1.8" fill="#ff0000"/><rect x="119" y="811" width="109" height="15" fill="#000"/><text x="120.5" y="823.5" font-size="12" font-family='"Liberation Sans", "Noto Sans CJK SC", sans-serif' fill="#f0962a"><tspan letter-spacing="0.75">2024/12/24 </tspan><tspan x="191">星期二</tspan></text><text x="34" y="826" font-size="13" font-weight="bold" font-family='"Liberation Sans", "Noto Sans CJK SC", sans-serif' fill="#ff6a00">日线</text><path d="M65 825 L69.5 817 L74 825 Z" fill="#ff6a00"/>
<rect x="0" y="1" width="20" height="825" fill="#1b1b1b"/><rect x="2" y="3" width="18" height="212" fill="#25262b"/><rect x="2" y="215" width="17" height="611" fill="#050505"/><rect x="2" y="51" width="18" height="1" fill="#131920"/><rect x="2" y="98" width="18" height="1" fill="#131920"/><rect x="2" y="52" width="17" height="46" fill="#ff6600"/><rect x="2" y="150" width="18" height="1" fill="#1e1e1f"/><rect x="2" y="214" width="18" height="1" fill="#202022"/><text x="9.7" y="17.5" font-size="12" text-anchor="middle" font-family='"Liberation Sans", "WenQuanYi Zen Hei", "Noto Sans CJK SC", sans-serif' fill="#c4c4c4">分</text><text x="9.7" y="31.5" font-size="12" text-anchor="middle" font-family='"Liberation Sans", "WenQuanYi Zen Hei", "Noto Sans CJK SC", sans-serif' fill="#c4c4c4">时</text><text x="9.7" y="45.5" font-size="12" text-anchor="middle" font-family='"Liberation Sans", "WenQuanYi Zen Hei", "Noto Sans CJK SC", sans-serif' fill="#c4c4c4">图</text><text x="9.8" y="67" font-size="11" text-anchor="middle" font-family='"Liberation Serif", serif' fill="#ffffff">K</text><text x="9.7" y="80.5" font-size="12" text-anchor="middle" font-family='"Liberation Sans", "WenQuanYi Zen Hei", "Noto Sans CJK SC", sans-serif' fill="#ffffff">线</text><text x="9.7" y="94.5" font-size="12" text-anchor="middle" font-family='"Liberation Sans", "WenQuanYi Zen Hei", "Noto Sans CJK SC", sans-serif' fill="#ffffff">图</text><text x="9.7" y="115.5" font-size="12" text-anchor="middle" font-family='"Liberation Sans", "WenQuanYi Zen Hei", "Noto Sans CJK SC", sans-serif' fill="#c4c4c4">闪</text><text x="9.7" y="129.5" font-size="12" text-anchor="middle" font-family='"Liberation Sans", "WenQuanYi Zen Hei", "Noto Sans CJK SC", sans-serif' fill="#c4c4c4">电</text><text x="9.7" y="143.5" font-size="12" text-anchor="middle" font-family='"Liberation Sans", "WenQuanYi Zen Hei", "Noto Sans CJK SC", sans-serif' fill="#c4c4c4">图</text><text x="9.7" y="169" font-size="12" text-anchor="middle" font-family='"Liberation Sans", "WenQuanYi Zen Hei", "Noto Sans CJK SC", sans-serif' fill="#c4c4c4">合</text><text x="9.7" y="183" font-size="12" text-anchor="middle" font-family='"Liberation Sans", "WenQuanYi Zen Hei", "Noto Sans CJK SC", sans-serif' fill="#c4c4c4">约</text><text x="9.7" y="197" font-size="12" text-anchor="middle" font-family='"Liberation Sans", "WenQuanYi Zen Hei", "Noto Sans CJK SC", sans-serif' fill="#c4c4c4">资</text><text x="9.7" y="211" font-size="12" text-anchor="middle" font-family='"Liberation Sans", "WenQuanYi Zen Hei", "Noto Sans CJK SC", sans-serif' fill="#c4c4c4">料</text>
<rect x="0" y="0" width="1462" height="1" fill="#2b2c30"/>
</svg>
</body></html>
